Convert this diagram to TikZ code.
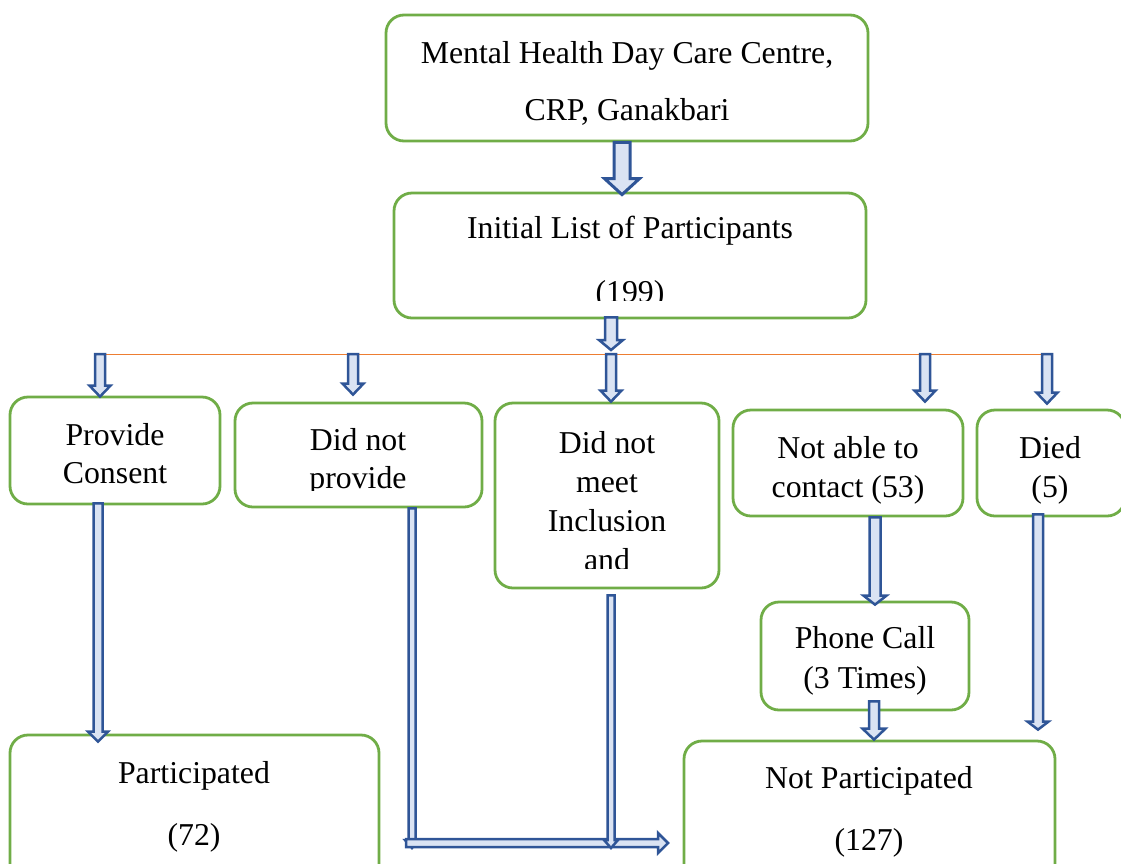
\documentclass[tikz,border=0pt]{standalone}
\usepackage{fontspec}
\setmainfont{Liberation Serif}
\usepackage{tikz}
\usetikzlibrary{calc}

\definecolor{boxgreen}{HTML}{70AD47}
\definecolor{arrowline}{HTML}{2F5597}
\definecolor{arrowfill}{HTML}{DAE3F3}
\definecolor{branchline}{HTML}{ED7D31}

\begin{document}
\begin{tikzpicture}[x=1pt, y=-1pt,
  stage/.style={draw=boxgreen, line width=2.8pt, rounded corners=18pt, inner sep=0pt},
  txt/.style={anchor=base, inner sep=0pt, font=\fontsize{31.8}{38}\selectfont},
  % block arrow pointing down: shaft half width, head half width, head length
  barrow/.style n args={3}{draw=arrowline, fill=arrowfill, line width=2.5pt,
    to path={let \p1=(\tikztostart), \p2=(\tikztotarget) in
      (\x1-#1,\y1) -- (\x1-#1,\y2+#3) -- (\x1-#2,\y2+#3) -- (\x1,\y2)
      -- (\x1+#2,\y2+#3) -- (\x1+#1,\y2+#3) -- (\x1+#1,\y1) -- cycle}},
  % same, pointing right
  hbarrow/.style n args={3}{draw=arrowline, fill=arrowfill, line width=2.5pt,
    to path={let \p1=(\tikztostart), \p2=(\tikztotarget) in
      (\x1,\y1+#1) -- (\x2-#3,\y1+#1) -- (\x2-#3,\y1+#2) -- (\x2,\y1)
      -- (\x2-#3,\y1-#2) -- (\x2-#3,\y1-#1) -- (\x1,\y1-#1) -- cycle}}]

\useasboundingbox (0,0) rectangle (1121,863);
\clip (0,0) rectangle (1121,863);

% Boxes
\node[stage, minimum width=482, minimum height=126] (centre) at (627,78) {};
\node[stage, minimum width=472, minimum height=125] (initial) at (630,255.5) {};
\node[stage, minimum width=210, minimum height=107] (consent) at (115,450.5) {};
\node[stage, minimum width=247, minimum height=104] (noconsent) at (358.5,455) {};
\node[stage, minimum width=224, minimum height=185] (noinclusion) at (607,495.5) {};
\node[stage, minimum width=230, minimum height=106] (nocontact) at (848,463) {};
\node[stage, minimum width=148, minimum height=106] (died) at (1051,463) {};
\node[stage, minimum width=208, minimum height=108] (phone) at (865,656) {};
\node[stage, minimum width=369, minimum height=160] (participated) at (194.5,815) {};
\node[stage, minimum width=371, minimum height=160] (notparticipated) at (869.5,821) {};

% Texts
\node[txt] (centre1) at (627,63) {Mental Health Day Care Centre,};
\node[txt] (centre2) at (627,120) {CRP, Ganakbari};
\begin{scope}
  \clip (394,193) rectangle (866,300);
  \node[txt] (initial1) at (630,238) {Initial List of Participants};
  \node[txt] (initial2) at (630,302) {(199)};
\end{scope}
\node[txt] (consent1) at (115,445) {Provide};
\node[txt] (consent2) at (115,483) {Consent};
\begin{scope}
  \clip (235,403) rectangle (482,490);
  \node[txt] (noconsent1) at (358,450) {Did not};
  \node[txt] (noconsent2) at (358,488) {provide};
\end{scope}
\begin{scope}
  \clip (495,403) rectangle (719,568);
  \node[txt] (noinclusion1) at (607,453) {Did not};
  \node[txt] (noinclusion2) at (607,492) {meet};
  \node[txt] (noinclusion3) at (607,531) {Inclusion};
  \node[txt] (noinclusion4) at (607,570) {and};
\end{scope}
\node[txt] (nocontact1) at (848,458) {Not able to};
\node[txt] (nocontact2) at (848,497) {contact (53)};
\node[txt] (died1) at (1050,458) {Died};
\node[txt] (died2) at (1050,497) {(5)};
\node[txt] (phone1) at (865,648) {Phone Call};
\node[txt] (phone2) at (865,688) {(3 Times)};
\node[txt] (participated1) at (194,783) {Participated};
\node[txt] (participated2) at (194,845) {(72)};
\node[txt] (notparticipated1) at (869,788) {Not Participated};
\node[txt] (notparticipated2) at (869,850) {(127)};

% Branch line
\coordinate (split) at (611,355);
\coordinate (b1) at (100,354);
\coordinate (b2) at (353,354);
\coordinate (b3) at (611,354);
\coordinate (b4) at (925,354);
\coordinate (b5) at (1047,354);
\draw[branchline, line width=1pt] (b1) -- (b5);

% Arrows
\draw[barrow={8pt}{17.5pt}{16pt}, line width=3pt] ([xshift=-5pt]centre.south) to ([yshift=-3pt]initial.north);
\draw[barrow={6pt}{12pt}{10pt}] ([xshift=-19pt,yshift=2pt]initial.south) to ([yshift=5pt]split);
\draw[barrow={5pt}{10.5pt}{11pt}] (b1) to ([yshift=-1pt]consent.north);
\draw[barrow={5pt}{10.5pt}{11pt}] (b2) to ([yshift=7pt]noconsent.north);
\draw[barrow={5pt}{10.5pt}{11pt}] (b3) to (noinclusion.north);
\draw[barrow={5pt}{10.5pt}{11pt}] (b4) to ([yshift=7pt]nocontact.north);
\draw[barrow={5pt}{10.5pt}{11pt}] (b5) to ([yshift=5pt]died.north);

\draw[barrow={4.5pt}{10pt}{10pt}] ([xshift=-17pt,yshift=2pt]consent.south) to ([yshift=-8pt]participated.north);
\draw[barrow={5.5pt}{11.5pt}{9pt}] ([xshift=27pt]nocontact.south) to ([yshift=-4pt]phone.north);
\draw[barrow={5pt}{11.5pt}{11pt}] ([xshift=9pt,yshift=10pt]phone.south) to (notparticipated.north);
\draw[barrow={5pt}{10.5pt}{8pt}] ([xshift=-13pt,yshift=3pt]died.south) to ([yshift=10pt]notparticipated.north);

% Excluded ones joining towards Not Participated
\coordinate (join1) at (412,848);
\coordinate (join2) at (611,848);
\coordinate (joinL) at (406,843);
\coordinate (joinR) at (668,843);
\draw[barrow={3.5pt}{7pt}{8pt}] ([xshift=53.5pt]noconsent.south) to (join1);
\draw[hbarrow={4pt}{10pt}{10pt}] (joinL) to (joinR);
\draw[barrow={3.5pt}{7pt}{8pt}] ([xshift=4pt,yshift=-6pt]noinclusion.south) to (join2);
\end{tikzpicture}
\end{document}
